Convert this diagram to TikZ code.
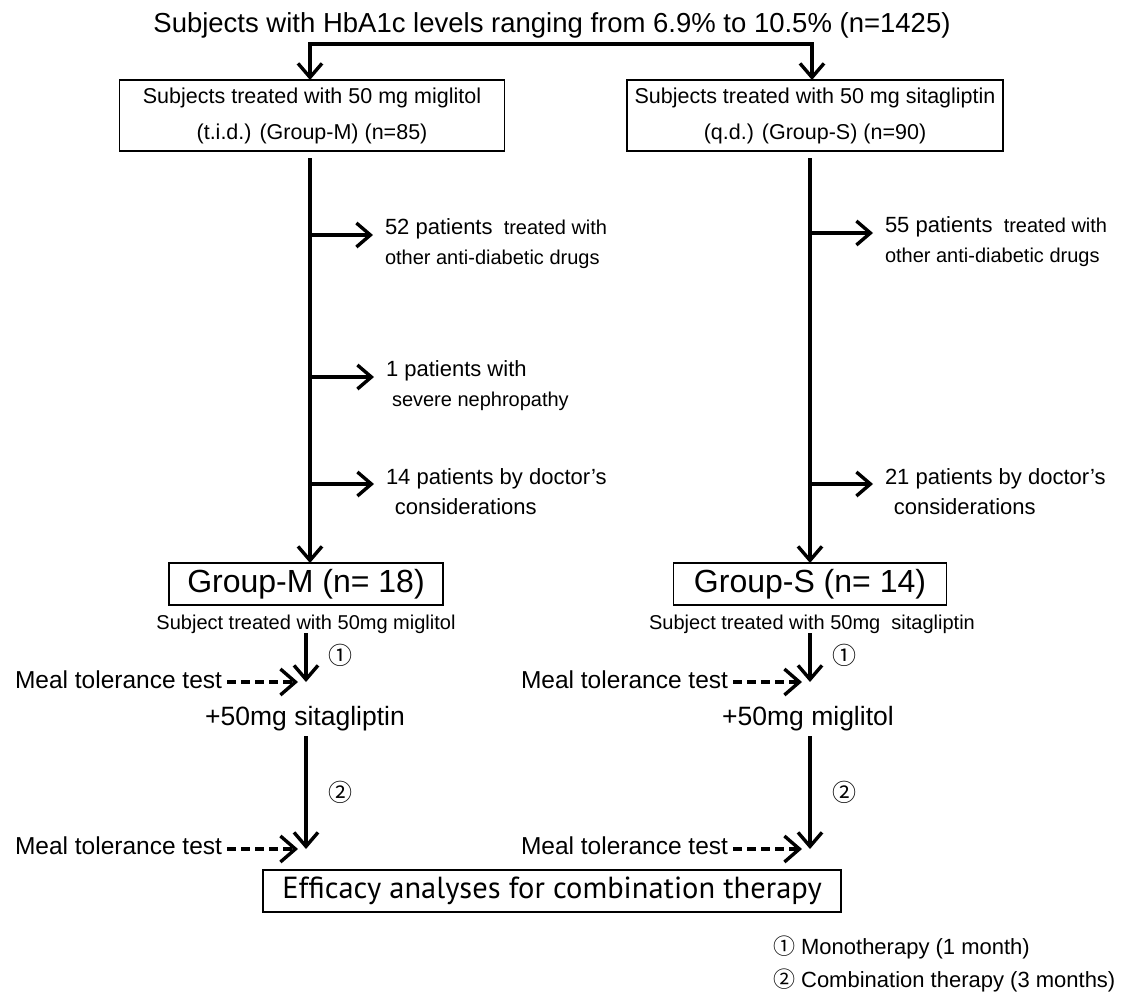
\documentclass[tikz,border=0pt]{standalone}
\usepackage{fontspec}
\setmainfont{Liberation Sans}
\newfontfamily\circfont{Noto Sans CJK JP}
\newfontfamily\effont{PT Sans}
\usetikzlibrary{arrows.meta}
\newcommand{\bigpart}[1]{{\fontsize{22}{30}\selectfont #1}}
\newcommand{\circd}[1]{{\circfont #1}}
\begin{document}
\begin{tikzpicture}[x=1pt,y=-1pt,
  plain/.style={inner sep=0pt, outer sep=0pt},
  frame/.style={draw, line width=1.4pt, inner sep=0pt, outer sep=0pt},
  tipbarb/.tip={Straight Barb[length=14pt,width=24pt]},
  dashbarb/.tip={Straight Barb[length=15pt,width=26pt]},
  flow/.style={line width=3.4pt, -tipbarb},
  bar/.style={line width=3.4pt, tipbarb-tipbarb},
  dasharrow/.style={line width=3.4pt, dash pattern=on 9pt off 5pt, -dashbarb},
  boxtext/.style={font=\fontsize{21.5}{36}\selectfont, align=center},
  sidetext/.style={plain, anchor=north west, align=left, font=\fontsize{20}{30}\selectfont},
  grouptext/.style={font=\fontsize{32}{32}\selectfont},
  subtext/.style={plain, font=\fontsize{20}{20}\selectfont},
  mealtext/.style={plain, anchor=east, font=\fontsize{24.5}{24.5}\selectfont},
  addtext/.style={plain, font=\fontsize{26.5}{26.5}\selectfont},
  circ/.style={plain, font=\circfont\fontsize{24}{24}\selectfont},
  legend/.style={plain, anchor=west, font=\fontsize{22}{22}\selectfont},
]
\useasboundingbox (0,0) rectangle (1136,996);

% title and first split
\node[plain, font=\fontsize{27.5}{27.5}\selectfont] (title) at (552,25)
  {Subjects with HbA1c levels ranging from 6.9\% to 10.5\% (n=1425)};
\node[frame, boxtext, minimum width=385pt, minimum height=71pt] (boxM) at (312,115.5)
  {Subjects treated with 50 mg miglitol\\(t.i.d.) (Group-M) (n=85)};
\node[frame, boxtext, minimum width=376pt, minimum height=71pt] (boxS) at (815,115.5)
  {Subjects treated with 50 mg sitagliptin\\(q.d.) (Group-S) (n=90)};
\coordinate (bl) at (310,44);
\coordinate (br) at (812,44);
\draw[bar] (bl |- boxM.north) -- (bl) -- (br) -- (br |- boxS.north);

% group boxes
\node[frame, grouptext, minimum width=274pt, minimum height=42pt] (gM) at (306,584) {Group-M (n= 18)};
\node[frame, grouptext, minimum width=273pt, minimum height=42pt] (gS) at (810,584) {Group-S (n= 14)};

% left exclusion column
\coordinate (vl) at (310,158);
\draw[flow] (vl) -- (vl |- gM.north);
\coordinate (b1) at (310,235);
\coordinate (b2) at (310,377);
\coordinate (b3) at (310,484);
\node[sidetext] (t1) at (385,219) {\bigpart{52 patients}\ \ treated with\\other anti-diabetic drugs};
\node[sidetext] (t2) at (386,361) {\bigpart{1 patients with}\\\hspace{0.3em}severe nephropathy};
\node[sidetext] (t3) at (386,469) {\bigpart{14 patients by doctor’s}\\\bigpart{\hspace{0.4em}considerations}};
\draw[flow] (b1) -- ([xshift=-12pt]t1.west |- b1);
\draw[flow] (b2) -- ([xshift=-12pt]t2.west |- b2);
\draw[flow] (b3) -- ([xshift=-12pt]t3.west |- b3);

% right exclusion column
\coordinate (vr) at (810,158);
\draw[flow] (vr) -- (vr |- gS.north);
\coordinate (b4) at (810,233);
\coordinate (b5) at (810,484);
\node[sidetext] (t4) at (885,217) {\bigpart{55 patients}\ \ treated with\\other anti-diabetic drugs};
\node[sidetext] (t5) at (885,469) {\bigpart{21 patients by doctor’s}\\\bigpart{\hspace{0.4em}considerations}};
\draw[flow] (b4) -- ([xshift=-12pt]t4.west |- b4);
\draw[flow] (b5) -- ([xshift=-12pt]t5.west |- b5);

% left treatment sequence
\node[subtext] (sM) at (306,624) {Subject treated with 50mg miglitol};
\coordinate (j1) at (306,682);
\coordinate (j2) at (306,849);
\draw[flow] (sM.south -| j1) -- (j1);
\node[circ] (c1) at (340,655) {①};
\node[mealtext] (m1) at (222,680) {Meal tolerance test};
\draw[dasharrow, shorten >=8pt] ([xshift=5pt]m1.east |- j1) -- (j1);
\node[addtext] (p1) at (305,719) {+50mg sitagliptin};
\draw[flow] ([yshift=-5pt]p1.south -| j1) -- (j2);
\node[circ] (c2) at (340,792) {②};
\node[mealtext] (m2) at (222,846) {Meal tolerance test};
\draw[dasharrow, shorten >=8pt] ([xshift=5pt]m2.east |- j2) -- (j2);

% right treatment sequence
\node[subtext] (sS) at (812,624) {Subject treated with 50mg\ \ sitagliptin};
\coordinate (j3) at (810,682);
\coordinate (j4) at (810,849);
\draw[flow] (sS.south -| j3) -- (j3);
\node[circ] (c3) at (844,655) {①};
\node[mealtext] (m3) at (728,680) {Meal tolerance test};
\draw[dasharrow, shorten >=8pt] ([xshift=5pt]m3.east |- j3) -- (j3);
\node[addtext] (p2) at (808,719) {+50mg miglitol};
\draw[flow] ([yshift=-5pt]p2.south -| j3) -- (j4);
\node[circ] (c4) at (844,792) {②};
\node[mealtext] (m4) at (728,846) {Meal tolerance test};
\draw[dasharrow, shorten >=8pt] ([xshift=5pt]m4.east |- j4) -- (j4);

% final box
\node[frame, font=\effont\fontsize{30.5}{30.5}\selectfont, minimum width=578pt, minimum height=42pt] (eff) at (552,891)
  {Efficacy analyses for combination therapy};

% legend
\node[legend] (l1) at (773,947) {\circd{①} Monotherapy (1 month)};
\node[legend] (l2) at (773,980) {\circd{②} Combination therapy (3 months)};
\end{tikzpicture}
\end{document}
